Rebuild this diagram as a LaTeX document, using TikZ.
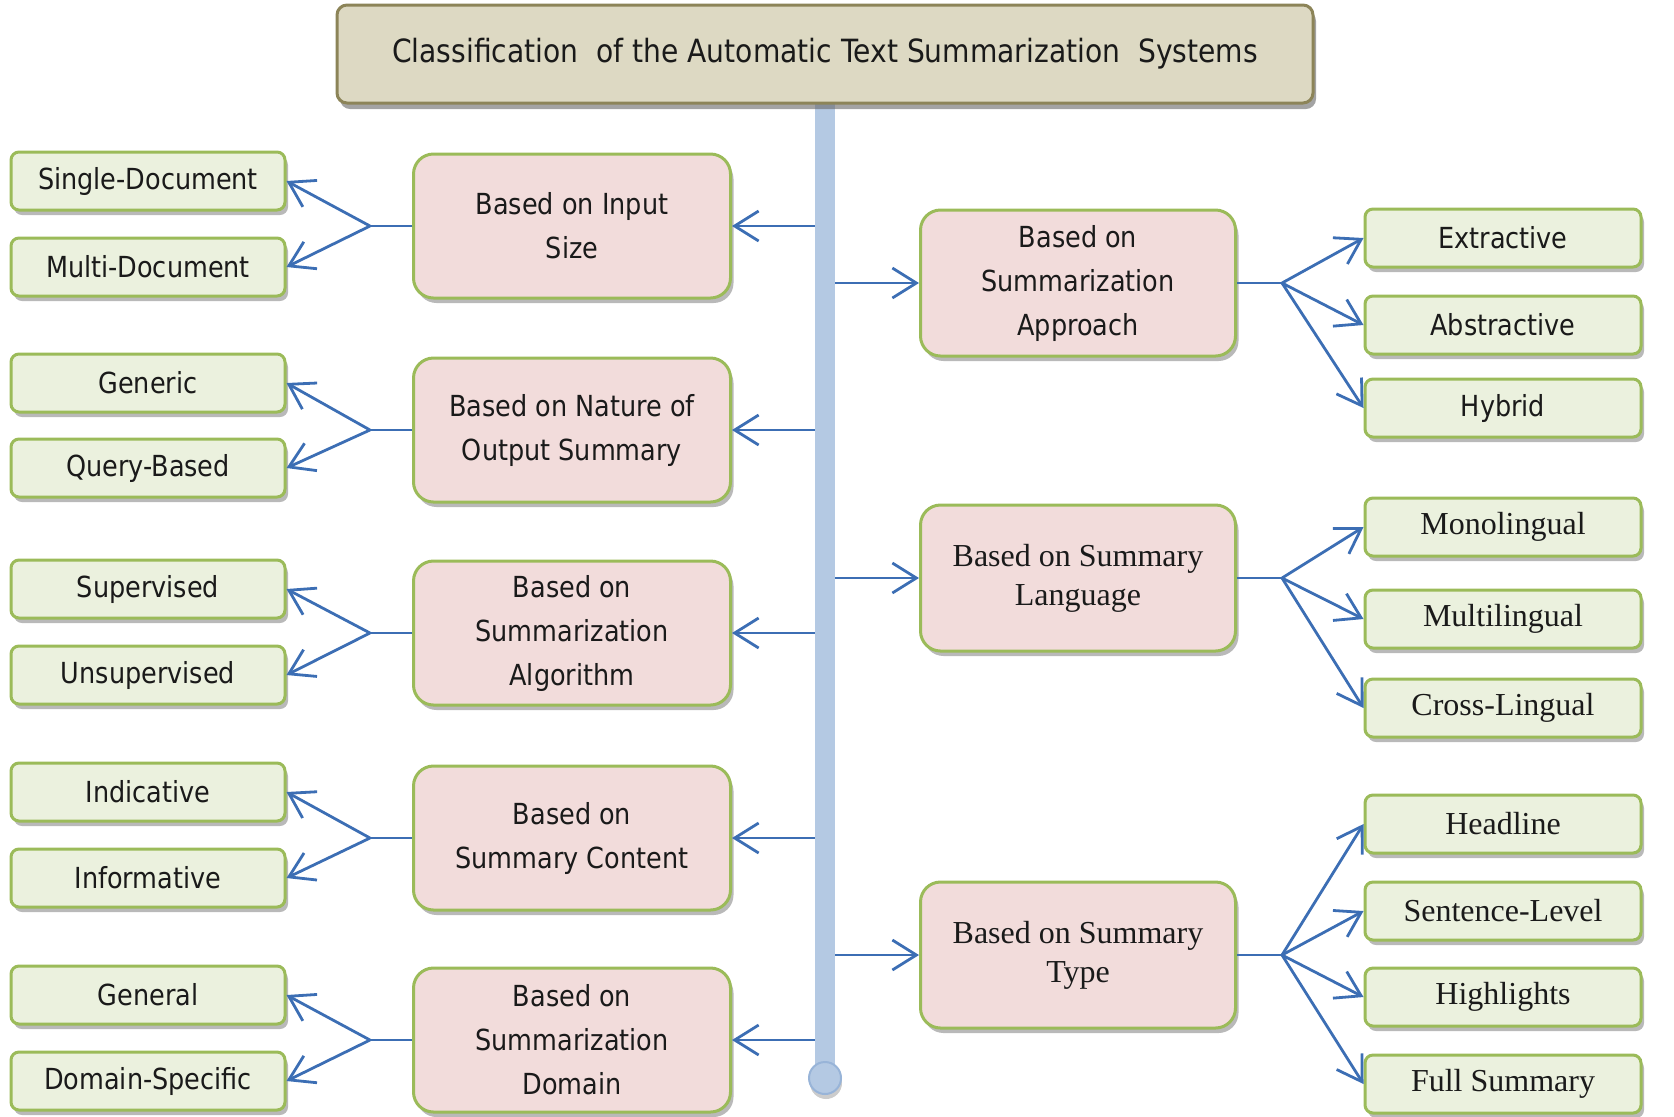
\documentclass[tikz,border=0pt]{standalone}
\usepackage{fontspec}
\setmainfont{DejaVu Sans}[FakeStretch=0.88]
\newfontfamily\serifx{Liberation Serif}
\usetikzlibrary{arrows.meta,shadows}
\definecolor{arrowblue}{HTML}{3C6EB4}
\definecolor{barblue}{HTML}{B4C9E3}
\definecolor{barline}{HTML}{98B4D8}
\definecolor{pinkfill}{HTML}{F2DCDB}
\definecolor{leaffill}{HTML}{EBF1DE}
\definecolor{greenline}{HTML}{9BBB59}
\definecolor{titlefill}{HTML}{DDD9C3}
\definecolor{titleline}{HTML}{8C8458}
\definecolor{txt}{HTML}{1A1A1A}
\begin{document}
\begin{tikzpicture}[x=0.5pt,y=-0.5pt,
  shad/.style={drop shadow={shadow xshift=1.5pt,shadow yshift=-2.5pt,fill=black!55,opacity=0.5}},
  sansfont/.style={font=\fontsize{14.5}{22}\selectfont},
  seriffont/.style={font=\serifx\fontsize{16}{19.5}\selectfont},
  leaf/.style={shad, draw=greenline, line width=1.5pt, fill=leaffill, rounded corners=4pt,
    minimum width=137pt, minimum height=29pt, inner sep=0pt, text=txt, sansfont},
  rleaf/.style={leaf, minimum width=138pt},
  pinkbox/.style={shad, draw=greenline, line width=1.5pt, fill=pinkfill, rounded corners=10pt,
    minimum width=158.5pt, minimum height=72pt, inner sep=0pt, align=center, text=txt, sansfont},
  rpink/.style={pinkbox, minimum width=157.5pt, minimum height=73pt},
  arr/.style={draw=arrowblue, line width=1.4pt, -{Straight Barb[length=12pt,width=15pt]}},
  ln/.style={draw=arrowblue, line width=1.4pt}
]
\useasboundingbox (0,0) rectangle (1674,1116);

% vertical bar
\node[fill=barblue, draw=none, minimum width=10pt, minimum height=485pt, inner sep=0pt] (bar) at (825,585) {};
\node[drop shadow={shadow xshift=0.5pt,shadow yshift=-2.5pt,fill=black!50,opacity=0.4}, circle, fill=barblue, draw=barline, line width=1pt, minimum size=16pt, inner sep=0pt] (knob) at (825,1078) {};

% title
\node[drop shadow={shadow xshift=1.5pt,shadow yshift=-3pt,fill=black!60,opacity=0.6}, draw=titleline, line width=1.5pt, fill=titlefill, rounded corners=5pt,
  minimum width=488pt, minimum height=49pt, inner sep=0pt, text=txt, font=\fontsize{16}{20}\selectfont] (title) at (825,54)
  {Classification\ \ of the Automatic Text Summarization\ \ Systems};

% left categories
\node[pinkbox] (p1) at (572,226) {Based on Input\\Size};
\node[pinkbox] (p2) at (572,430) {Based on Nature of\\Output Summary};
\node[pinkbox] (p3) at (572,633) {Based on\\Summarization\\Algorithm};
\node[pinkbox] (p4) at (572,838) {Based on\\Summary Content};
\node[pinkbox] (p5) at (572,1040) {Based on\\Summarization\\Domain};

% left leaves
\node[leaf] (l1a) at (148,181) {Single-Document};
\node[leaf] (l1b) at (148,267) {Multi-Document};
\node[leaf] (l2a) at (148,383) {Generic};
\node[leaf] (l2b) at (148,468) {Query-Based};
\node[leaf] (l3a) at (148,589) {Supervised};
\node[leaf] (l3b) at (148,675) {Unsupervised};
\node[leaf] (l4a) at (148,792) {Indicative};
\node[leaf] (l4b) at (148,878) {Informative};
\node[leaf] (l5a) at (148,995) {General};
\node[leaf] (l5b) at (148,1081) {Domain-Specific};

% right categories
\node[rpink] (r1) at (1078,283) {Based on\\Summarization\\Approach};
\node[rpink, seriffont] (r2) at (1078,578) {Based on Summary\\Language};
\node[rpink, seriffont] (r3) at (1078,955) {Based on Summary\\Type};

% right leaves
\node[rleaf] (q1a) at (1503,238) {Extractive};
\node[rleaf] (q1b) at (1503,325) {Abstractive};
\node[rleaf] (q1c) at (1503,408) {Hybrid};
\node[rleaf, seriffont] (q2a) at (1503,527) {Monolingual};
\node[rleaf, seriffont] (q2b) at (1503,619) {Multilingual};
\node[rleaf, seriffont] (q2c) at (1503,708) {Cross-Lingual};
\node[rleaf, seriffont] (q3a) at (1503,824) {Headline};
\node[rleaf, seriffont] (q3b) at (1503,911) {Sentence-Level};
\node[rleaf, seriffont] (q3c) at (1503,997) {Highlights};
\node[rleaf, seriffont] (q3d) at (1503,1084) {Full Summary};

% bar to left categories
\foreach \p in {p1,p2,p3,p4,p5}{
  \draw[arr] (bar.west |- \p.east) -- (\p.east);
}
% bar to right categories
\foreach \p in {r1,r2,r3}{
  \draw[arr] (bar.east |- \p.west) -- (\p.west);
}

% left branches
\foreach \p/\a/\b in {p1/l1a/l1b,p2/l2a/l2b,p3/l3a/l3b,p4/l4a/l4b,p5/l5a/l5b}{
  \draw[ln] (\p.west) -- ++(-42,0) coordinate (br\p);
  \draw[arr] (br\p) -- (\a.east);
  \draw[arr] (br\p) -- (\b.east);
}

% right branches
\draw[ln] (r1.east) -- ++(45,0) coordinate (br1);
\foreach \q in {q1a,q1b,q1c}{\draw[arr] (br1) -- (\q.west);}
\draw[ln] (r2.east) -- ++(45,0) coordinate (br2);
\foreach \q in {q2a,q2b,q2c}{\draw[arr] (br2) -- (\q.west);}
\draw[ln] (r3.east) -- ++(45,0) coordinate (br3);
\foreach \q in {q3a,q3b,q3c,q3d}{\draw[arr] (br3) -- (\q.west);}
\end{tikzpicture}
\end{document}
